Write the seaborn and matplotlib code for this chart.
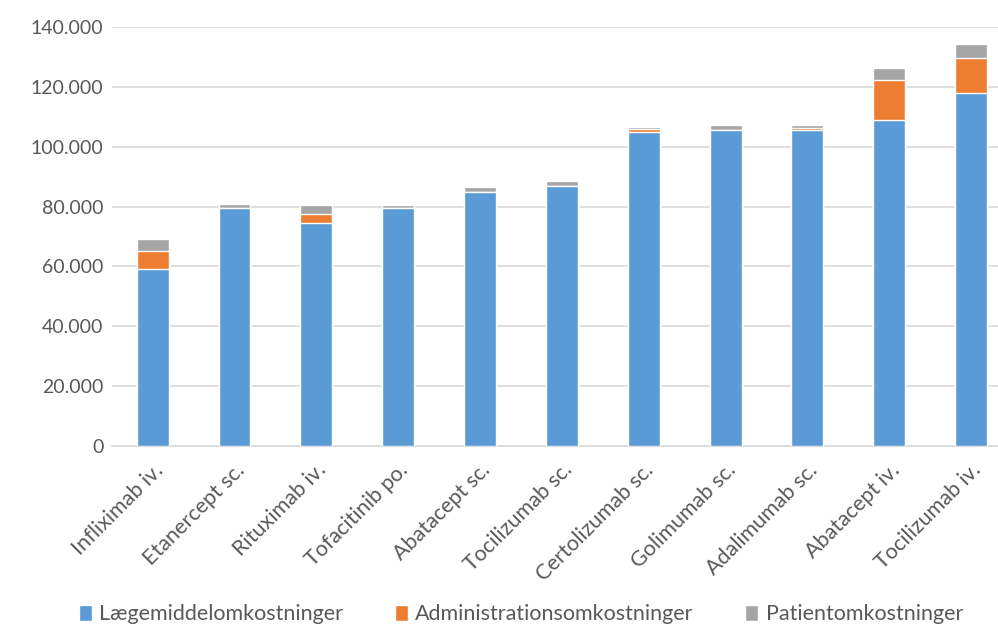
import seaborn as sns
import matplotlib.pyplot as plt
import pandas as pd
from matplotlib.ticker import FuncFormatter
from matplotlib.patches import Patch

drugs = ["Infliximab iv.", "Etanercept sc.", "Rituximab iv.", "Tofacitinib po.",
         "Abatacept sc.", "Tocilizumab sc.", "Certolizumab sc.", "Golimumab sc.",
         "Adalimumab sc.", "Abatacept iv.", "Tocilizumab iv."]
laegemiddel = [59000, 79600, 74500, 79600, 85000, 87000, 105000, 105600, 105600, 109000, 117800]
administration = [6000, 0, 3000, 0, 0, 0, 800, 0, 600, 13300, 11900]
patient = [4000, 1300, 3000, 900, 1400, 1400, 800, 1500, 900, 4000, 4700]

series_names = ["Lægemiddelomkostninger", "Administrationsomkostninger", "Patientomkostninger"]
colors = ["#5b9bd5", "#ed7d31", "#a5a5a5"]

df = pd.DataFrame({"drug": drugs, "l": laegemiddel, "a": administration, "p": patient})
df["la"] = df["l"] + df["a"]
df["total"] = df["la"] + df["p"]

sns.set_style("white")
plt.rcParams["font.family"] = ["Lato", "DejaVu Sans"]

fig = plt.figure(figsize=(9.98, 6.28), dpi=100)
# plot area runs a bit past the right edge, like the original
ax = fig.add_axes([0.112, 0.29, 0.902, 0.667])

# stacked look: draw cumulative totals on top of each other
sns.barplot(data=df, x="drug", y="total", color=colors[2], width=0.39, saturation=1, ax=ax, zorder=2)
sns.barplot(data=df, x="drug", y="la", color=colors[1], width=0.39, saturation=1, ax=ax, zorder=3)
sns.barplot(data=df, x="drug", y="l", color=colors[0], width=0.39, saturation=1, ax=ax, zorder=4)

ax.set_xlim(-0.5, len(drugs) - 0.5)
ax.set_ylim(0, 140000)
ax.set_yticks(range(0, 140001, 20000))
ax.yaxis.set_major_formatter(FuncFormatter(lambda v, _: "0" if v == 0 else f"{int(v):,}".replace(",", ".")))
ax.grid(axis="y", color="#d9d9d9", linewidth=1.2, zorder=0)
ax.set_axisbelow(True)
for s in ["top", "right", "left"]:
    ax.spines[s].set_visible(False)
ax.spines["bottom"].set_color("#d9d9d9")
ax.spines["bottom"].set_linewidth(1.2)
ax.set_xlabel("")
ax.set_ylabel("")
ax.tick_params(axis="y", length=0, labelsize=14, colors="#595959", pad=6)
ax.tick_params(axis="x", length=0, labelsize=15.5, colors="#595959", pad=10)
plt.setp(ax.get_xticklabels(), rotation=45, ha="right", rotation_mode="anchor")

handles = [Patch(facecolor=c, label=n) for c, n in zip(colors, series_names)]
fig.legend(handles=handles, loc="center", bbox_to_anchor=(0.522, 0.022), ncol=3, frameon=False,
           fontsize=15.5, handlelength=0.6, handleheight=0.75, columnspacing=2.4, handletextpad=0.35,
           labelcolor="#595959")

fig.savefig("out.png", dpi=100)
